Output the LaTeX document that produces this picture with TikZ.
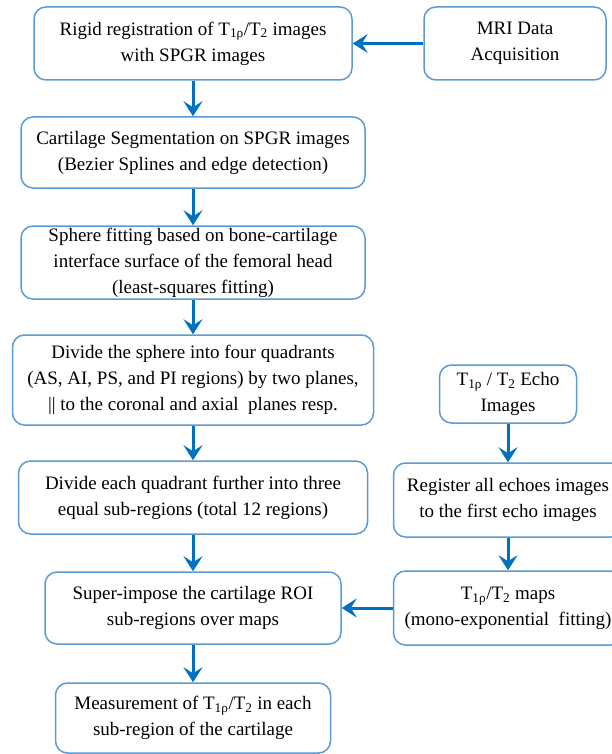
\documentclass[tikz,border=0pt]{standalone}
\usepackage{fontspec}
\setmainfont{Liberation Serif}
\usetikzlibrary{arrows.meta}
\definecolor{boxblue}{RGB}{91,155,213}
\definecolor{arrblue}{RGB}{0,112,192}
\tikzset{
  stepbox/.style={draw=boxblue, line width=1.5pt, rounded corners=12pt, fill=white,
    align=center, inner sep=0pt, font=\fontsize{19}{26}\selectfont},
  arr/.style={draw=arrblue, line width=3pt,
    -{Stealth[length=15pt,width=19pt,inset=6pt]}}
}
\newcommand{\Tr}{T\textsubscript{1ρ}}
\newcommand{\Tt}{T\textsubscript{2}}
\begin{document}
\begin{tikzpicture}[x=1pt,y=-1pt]
\useasboundingbox (0,0) rectangle (611,754);
\node[stepbox, minimum width=318pt, minimum height=73pt] (b1) at (193,43.5)
  {Rigid registration of \Tr/\Tt{} images\\with SPGR images};
\node[stepbox, minimum width=182pt, minimum height=73pt] (mri) at (515,43.5)
  {MRI Data\\Acquisition};
\node[stepbox, minimum width=344pt, minimum height=71pt] (b2) at (193,152.5)
  {Cartilage Segmentation on SPGR images\\(Bezier Splines and edge detection)};
\node[stepbox, minimum width=344pt, minimum height=73pt] (b3) at (193,262.5)
  {Sphere fitting based on bone-cartilage\\interface surface of the femoral head\\(least-squares fitting)};
\node[stepbox, minimum width=361pt, minimum height=90pt] (b4) at (193,380)
  {Divide the sphere into four quadrants\\(AS, AI, PS, and PI regions) by two planes,\\\textbar\textbar{} to the coronal and axial~ planes resp.};
\node[stepbox, minimum width=349pt, minimum height=73pt] (b5) at (193,497.5)
  {Divide each quadrant further into three\\equal sub-regions (total 12 regions)};
\node[stepbox, minimum width=296pt, minimum height=72pt] (b6) at (193,608)
  {Super-impose the cartilage ROI\\sub-regions over maps};
\node[stepbox, minimum width=275pt, minimum height=70pt] (b7) at (193,718)
  {Measurement of \Tr/\Tt{} in each\\sub-region of the cartilage};
\node[stepbox, minimum width=137pt, minimum height=58pt] (r1) at (508,394)
  {\Tr{} / \Tt{} Echo\\Images};
\node[stepbox, minimum width=229pt, minimum height=74pt] (r2) at (508,500)
  {Register all echoes images\\to the first echo images};
\node[stepbox, minimum width=229pt, minimum height=74pt] (r3) at (508,608)
  {\Tr/\Tt{} maps\\(mono-exponential~ fitting)};
\draw[arr] (mri.west) -- (b1.east);
\draw[arr] (b1.south) -- (b2.north);
\draw[arr] (b2.south) -- (b3.north);
\draw[arr] (b3.south) -- (b4.north);
\draw[arr] (b4.south) -- (b5.north);
\draw[arr] (b5.south) -- (b6.north);
\draw[arr] (b6.south) -- (b7.north);
\draw[arr] (r1.south) -- (r2.north);
\draw[arr] (r2.south) -- (r3.north);
\draw[arr] (r3.west) -- (b6.east);
\end{tikzpicture}
\end{document}
